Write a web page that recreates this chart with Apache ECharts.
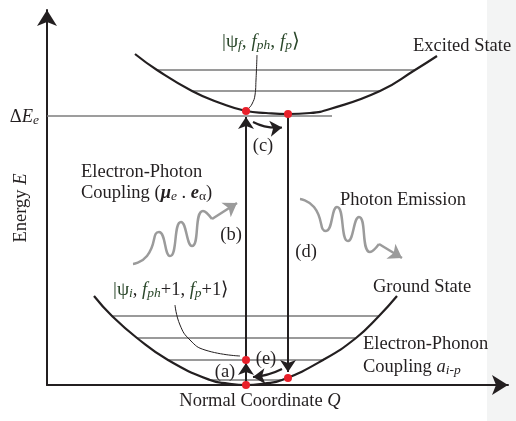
<!DOCTYPE html>
<html>
<head>
<meta charset="utf-8">
<script src="https://cdn.jsdelivr.net/npm/echarts@6/dist/echarts.min.js"></script>
<style>
  html, body { margin: 0; padding: 0; background: #fff; }
  #chart { width: 516px; height: 421px; }
</style>
</head>
<body>
<div id="chart"></div>
<script>
// Configuration-coordinate diagram. Q = normal coordinate, E = energy (arbitrary units).

// Potential-energy curves
const excitedQ = [88, 110, 145, 173, 199, 219, 241, 263, 283, 333, 368, 390];
const excitedE = [331, 315, 294, 282, 274, 272, 271, 272, 276, 294, 315, 329];
const groundQ = [47, 65, 90, 121, 163, 181, 199, 217, 235, 276, 309, 332, 350];
const groundE = [89, 69, 47, 25, 5, 1.5, 0, 1.5, 5, 25, 47, 69, 89];

// Vibrational levels: energy and Q extent inside each well
const groundLevelE = [69, 47, 25, 5];
const groundLevelQ = [[65, 332], [90, 309], [120, 277], [163, 235]];
const excitedLevelE = [315, 294];
const excitedLevelQ = [[110, 368], [145, 333]];
const deltaEe = 269;
const deltaEeQEnd = 285;

// States taking part in the transitions
const stateQ = [199, 241, 199, 241, 199];
const stateE = [274, 271, 25, 7, 0];

// Transitions (from -> to), with curvature
const transitions = [
  { name: '(a)', from: [199, 0], to: [199, 22], curve: 0 },
  { name: '(b)', from: [199, 25], to: [199, 268], curve: 0 },
  { name: '(c)', from: [206, 263], to: [235, 257.5], curve: -0.15 },
  { name: '(d)', from: [241, 271], to: [241, 13], curve: 0 },
  { name: '(e)', from: [235, 16], to: [206, 8], curve: 0.1 }
];

// Photon wave paths and their arrow segments
const absorbQ = [86, 100, 112, 123, 134, 145, 156, 165];
const absorbE = [121, 129, 153, 129, 163, 139, 174, 166];
const absorbTip = [190, 182];
const emitQ = [253, 267, 279, 290, 301, 312, 323, 332];
const emitE = [186, 178, 154, 178, 144, 168, 133, 141];
const emitTip = [355, 127];

// Leader lines from the state labels
const topLeaderQ = [210, 209, 208, 205, 202];
const topLeaderE = [330, 305, 290, 281, 277];
const lowLeaderQ = [128, 133, 143, 158, 193];
const lowLeaderE = [80, 60, 45, 35, 29];

const pairs = (qs, es) => qs.map((q, i) => [q, es[i]]);

const ink = '#231f20';
const green = '#2a472a';
const levelGray = '#9a9a9a';
const photonGray = '#9b9b9b';
const serif = "'Liberation Serif', 'Times New Roman', serif";
const FS = 18.5;
const SUB = 13.5;

const rich = {
  t: { fontFamily: serif, fontSize: FS, fill: ink, lineHeight: 20, verticalAlign: 'middle' },
  i: { fontFamily: serif, fontSize: FS, fontStyle: 'italic', fill: ink, lineHeight: 20, verticalAlign: 'middle' },
  bi: { fontFamily: serif, fontSize: FS, fontStyle: 'italic', fontWeight: 'bold', fill: ink, lineHeight: 20, verticalAlign: 'middle' },
  s: { fontFamily: serif, fontSize: SUB, fontStyle: 'italic', fill: ink, lineHeight: 8, verticalAlign: 'bottom' },
  su: { fontFamily: serif, fontSize: SUB, fill: ink, lineHeight: 8, verticalAlign: 'bottom' },
  g: { fontFamily: serif, fontSize: FS, fontStyle: 'italic', fill: green, lineHeight: 20, verticalAlign: 'middle' },
  gu: { fontFamily: serif, fontSize: 19.5, fill: green, lineHeight: 20, verticalAlign: 'middle' },
  gs: { fontFamily: serif, fontSize: SUB, fontStyle: 'italic', fill: green, lineHeight: 8, verticalAlign: 'bottom' }
};

function label(text, x, y, align, extra) {
  return Object.assign({
    type: 'text', x: x, y: y, z: 50,
    style: {
      text: text, rich: rich,
      fontFamily: serif, fontSize: FS, fill: ink,
      align: align || 'left', verticalAlign: 'middle'
    }
  }, extra || {});
}

const levelLines = []
  .concat(groundLevelE.map((e, i) => ({ coords: [[groundLevelQ[i][0], e], [groundLevelQ[i][1], e]] })))
  .concat(excitedLevelE.map((e, i) => ({ coords: [[excitedLevelQ[i][0], e], [excitedLevelQ[i][1], e]] })));

const chart = echarts.init(document.getElementById('chart'), null, { renderer: 'canvas' });

chart.setOption({
  animation: false,
  backgroundColor: {
    type: 'linear', x: 0, y: 0, x2: 1, y2: 0,
    colorStops: [
      { offset: 0, color: '#ffffff' },
      { offset: 487 / 516, color: '#ffffff' },
      { offset: 487 / 516, color: '#f3f4f4' },
      { offset: 1, color: '#f3f4f4' }
    ]
  },
  grid: { left: 47, right: 8, top: 10, bottom: 36, containLabel: false },
  xAxis: {
    type: 'value', min: 0, max: 461,
    axisLine: { show: true, onZero: false, symbol: ['none', 'arrow'], symbolSize: [15, 16], lineStyle: { color: ink, width: 2 } },
    axisTick: { show: false }, axisLabel: { show: false }, splitLine: { show: false }
  },
  yAxis: {
    type: 'value', min: 0, max: 375,
    axisLine: { show: true, onZero: false, symbol: ['none', 'arrow'], symbolSize: [15, 16], lineStyle: { color: ink, width: 2 } },
    axisTick: { show: false }, axisLabel: { show: false }, splitLine: { show: false }
  },
  series: [
    {
      type: 'lines', coordinateSystem: 'cartesian2d', z: 1, silent: true,
      lineStyle: { color: levelGray, width: 2, opacity: 1 },
      data: levelLines
    },
    {
      type: 'lines', coordinateSystem: 'cartesian2d', z: 1, silent: true,
      lineStyle: { color: '#7d7d7d', width: 1.5, opacity: 1 },
      data: [{ coords: [[0, deltaEe], [deltaEeQEnd, deltaEe]] }]
    },
    {
      type: 'line', data: pairs(excitedQ, excitedE), smooth: true, showSymbol: false, z: 3,
      lineStyle: { color: ink, width: 2.2 }
    },
    {
      type: 'line', data: pairs(groundQ, groundE), smooth: true, showSymbol: false, z: 3,
      lineStyle: { color: ink, width: 2.2 }
    },
    {
      type: 'line', data: pairs(topLeaderQ, topLeaderE), smooth: true, showSymbol: false, z: 3,
      lineStyle: { color: ink, width: 1 }
    },
    {
      type: 'line', data: pairs(lowLeaderQ, lowLeaderE), smooth: true, showSymbol: false, z: 3,
      lineStyle: { color: ink, width: 1 }
    },
    {
      type: 'line', data: pairs(absorbQ, absorbE), smooth: 0.6, showSymbol: false, z: 3,
      lineStyle: { color: photonGray, width: 2.5 }
    },
    {
      type: 'line', data: pairs(emitQ, emitE), smooth: 0.6, showSymbol: false, z: 3,
      lineStyle: { color: photonGray, width: 2.5 }
    },
    {
      type: 'lines', coordinateSystem: 'cartesian2d', z: 3, silent: true,
      symbol: ['none', 'arrow'], symbolSize: [10, 13],
      lineStyle: { color: photonGray, width: 2.5, opacity: 1 },
      data: [
        { coords: [[absorbQ[absorbQ.length - 1], absorbE[absorbE.length - 1]], absorbTip] },
        { coords: [[emitQ[emitQ.length - 1], emitE[emitE.length - 1]], emitTip] }
      ]
    },
    {
      type: 'lines', coordinateSystem: 'cartesian2d', z: 4, silent: true,
      symbol: ['none', 'arrow'], symbolSize: [10, 12],
      lineStyle: { color: ink, width: 2, opacity: 1 },
      data: transitions.map(t => ({ coords: [t.from, t.to], lineStyle: { curveness: t.curve } }))
    },
    {
      type: 'scatter', data: pairs(stateQ, stateE), symbolSize: 8, z: 5,
      itemStyle: { color: '#e8202a', opacity: 1 }
    }
  ],
  graphic: [
    label('{t|Δ}{i|E}{s|e}', 39, 117, 'right'),
    label('{t|Energy }{i|E}', 21, 208, 'center', { rotation: Math.PI / 2 }),
    label('{gu||ψ}{gs|f}{gu|, }{g|f}{gs|ph}{gu|, }{g|f}{gs|p}{gu|⟩}', 222, 42),
    label('{t|Excited State}', 413, 46),
    label('{t|Electron-Photon}', 81, 172),
    label('{t|Coupling (}{bi|μ}{s|e}{t| . }{bi|e}{su|α}{t|)}', 81, 193),
    label('{t|(c)}', 263, 146, 'center'),
    label('{t|(b)}', 231, 235, 'center'),
    label('{t|(d)}', 306, 252, 'center'),
    label('{t|(a)}', 225, 372, 'center'),
    label('{t|(e)}', 266, 359, 'center'),
    label('{t|Photon Emission}', 340, 200),
    label('{gu||ψ}{gs|i}{t|, }{g|f}{gs|ph}{t|+1, }{g|f}{gs|p}{t|+1⟩}', 113, 290),
    label('{t|Ground State}', 373, 287),
    label('{t|Electron-Phonon}', 363, 344),
    label('{t|Coupling }{i|a}{s|i-p}', 363, 367),
    label('{t|Normal Coordinate }{i|Q}', 260, 401, 'center')
  ]
});
</script>
</body>
</html>
